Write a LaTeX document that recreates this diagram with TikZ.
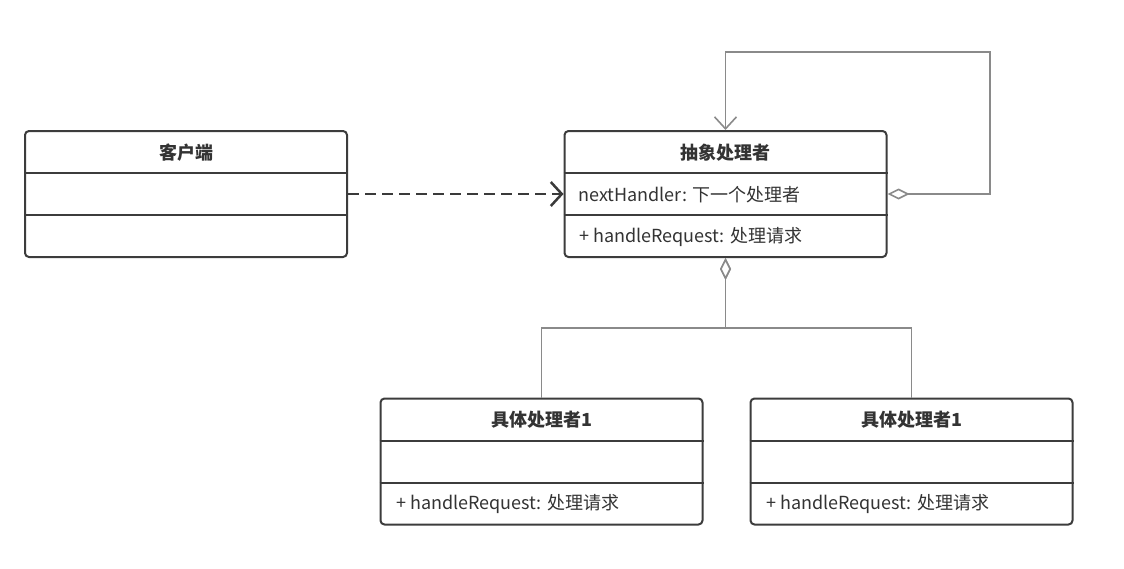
\documentclass[tikz,border=0pt]{standalone}
\usepackage{fontspec}
\setmainfont{Noto Sans CJK SC}
\usetikzlibrary{arrows.meta}
\definecolor{boxc}{HTML}{3C3C3C}
\definecolor{txtc}{HTML}{333333}
\definecolor{linec}{HTML}{8A8A8A}
\definecolor{depc}{HTML}{3A3A3A}
\tikzset{
  classbox/.style={draw=boxc, line width=2pt, rounded corners=4pt, minimum width=322pt, minimum height=126pt, inner sep=0pt, fill=white},
  divline/.style={draw=boxc, line width=2pt},
  ctitle/.style={font=\fontsize{18}{21}\selectfont\bfseries, text=txtc, inner sep=0pt},
  cmember/.style={font=\fontsize{18}{21}\selectfont, text=txtc, inner sep=0pt, anchor=west},
  deparrow/.style={draw=depc, line width=2.5pt, dash pattern=on 11pt off 6pt, -{Straight Barb[length=11pt,width=24pt]}},
  aggline/.style={draw=linec, line width=1.6pt, {Diamond[fill=white,length=22pt,width=11pt]}-},
  selfline/.style={draw=linec, line width=1.6pt, {Diamond[fill=white,length=22pt,width=11pt]}-{Straight Barb[length=12pt,width=22pt]}},
}
\begin{document}
\begin{tikzpicture}[x=1pt,y=-1pt]
\useasboundingbox (0,0) rectangle (1124,568);
\fill[white] (0,0) rectangle (1124,568);

% client
\node[classbox] (client) at (186,194) {};
\draw[divline] ([yshift=21pt]client.west) -- ([yshift=21pt]client.east);
\draw[divline] ([yshift=-21pt]client.west) -- ([yshift=-21pt]client.east);
\node[ctitle] (clientT) at (186,153) {客户端};

% abstract handler
\node[classbox] (abs) at (725.5,194) {};
\draw[divline] ([yshift=21pt]abs.west) -- ([yshift=21pt]abs.east);
\draw[divline] ([yshift=-21pt]abs.west) -- ([yshift=-21pt]abs.east);
\node[ctitle] (absT) at (725.5,153) {抽象处理者};
\node[cmember] (absA) at (578,195) {nextHandler: 下一个处理者};
\node[cmember] (absM) at (579,237) {+ handleRequest: 处理请求};

% concrete handler left
\node[classbox] (k1) at (541.5,461.5) {};
\draw[divline] ([yshift=21pt]k1.west) -- ([yshift=21pt]k1.east);
\draw[divline] ([yshift=-21pt]k1.west) -- ([yshift=-21pt]k1.east);
\node[ctitle] (k1T) at (541.5,420) {具体处理者1};
\node[cmember] (k1M) at (396,504) {+ handleRequest: 处理请求};

% concrete handler right
\node[classbox] (k2) at (911.5,461.5) {};
\draw[divline] ([yshift=21pt]k2.west) -- ([yshift=21pt]k2.east);
\draw[divline] ([yshift=-21pt]k2.west) -- ([yshift=-21pt]k2.east);
\node[ctitle] (k2T) at (911.5,420) {具体处理者1};
\node[cmember] (k2M) at (766,504) {+ handleRequest: 处理请求};

% connectors
\draw[deparrow] (client.east) -- (abs.west);
\coordinate (loopC) at (990,52);
\draw[selfline] (abs.east) -| (loopC) -| (abs.north);
\coordinate (join) at (725.5,328);
\draw[aggline] (abs.south) -- (join) -| (k1.north);
\draw[aggline] (abs.south) -- (join) -| (k2.north);
\end{tikzpicture}
\end{document}
